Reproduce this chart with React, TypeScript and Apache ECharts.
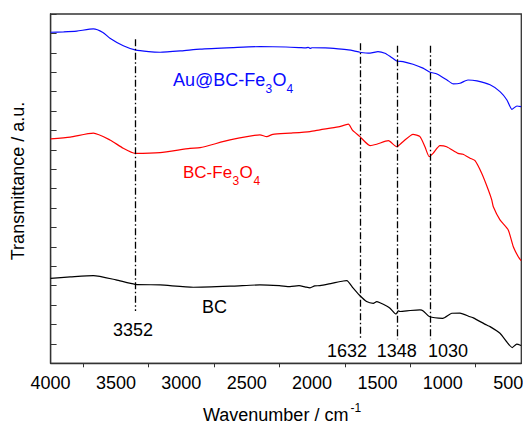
import React, { useEffect, useRef } from "react";
import * as echarts from "echarts";

// ---- data (wavenumber in cm-1, transmittance in arbitrary offset units) ----
const blueWavenumber = [4000, 3900, 3800, 3673, 3600, 3546, 3444, 3354, 3250, 3163, 3000, 2857, 2600, 2399, 2200, 2100, 2050, 2030, 2016, 2000, 1900, 1800, 1723, 1680, 1634, 1557, 1496, 1443, 1400, 1353, 1305, 1228, 1152, 1098, 1045, 968, 920, 869, 808, 739, 639, 563, 510, 472, 433, 402];
const blueT = [17.06, 17.08, 17.12, 17.23, 17.05, 16.75, 16.36, 16.15, 16.06, 16.03, 16.1, 16.19, 16.27, 16.32, 16.3, 16.27, 16.25, 16.28, 16.23, 16.26, 16.25, 16.2, 16.15, 16.1, 16.03, 15.98, 16.06, 15.98, 15.8, 15.58, 15.55, 15.41, 15.21, 15.0, 14.91, 14.6, 14.4, 14.43, 14.6, 14.55, 14.35, 14.0, 13.57, 13.09, 13.26, 13.23];

const redWavenumber = [4000, 3850, 3673, 3546, 3444, 3354, 3163, 2934, 2857, 2628, 2399, 2347, 2300, 2169, 2016, 1940, 1800, 1723, 1690, 1634, 1557, 1506, 1417, 1353, 1305, 1228, 1175, 1137, 1104, 1075, 1022, 971, 884, 846, 792, 754, 703, 652, 626, 614, 563, 500, 461, 423, 402];
const redT = [11.56, 11.66, 11.86, 11.51, 11.08, 10.82, 10.86, 11.08, 11.11, 11.51, 11.77, 11.68, 11.8, 11.86, 11.94, 12.03, 12.18, 12.32, 12.0, 11.68, 11.22, 11.29, 11.47, 11.16, 11.42, 11.8, 11.68, 11.16, 10.65, 10.82, 11.22, 11.16, 10.82, 10.77, 10.57, 10.44, 9.79, 8.93, 8.42, 8.07, 7.39, 6.87, 6.01, 5.49, 5.29];

const blackWavenumber = [4000, 3850, 3673, 3500, 3354, 3163, 2909, 2603, 2399, 2250, 2169, 2100, 2050, 2016, 1980, 1940, 1850, 1761, 1735, 1685, 1639, 1583, 1532, 1506, 1481, 1430, 1404, 1358, 1341, 1328, 1250, 1175, 1150, 1104, 1001, 932, 869, 792, 767, 665, 639, 563, 512, 469, 435, 402];
const blackT = [4.38, 4.45, 4.52, 4.3, 4.07, 4.04, 3.92, 3.98, 4.04, 4.0, 3.95, 4.0, 3.93, 3.89, 3.99, 4.0, 4.12, 4.24, 4.26, 3.87, 3.52, 3.18, 3.09, 3.18, 3.12, 2.95, 2.84, 2.54, 2.7, 2.67, 2.72, 2.75, 2.7, 2.41, 2.32, 2.58, 2.59, 2.4, 2.34, 1.97, 1.89, 1.55, 1.11, 0.81, 0.99, 0.92];

const xTickLabels = [500, 1000, 1500, 2000, 2500, 3000, 3500, 4000];
const xMinorTicks = [750, 1250, 1750, 2250, 2750, 3250, 3750];

const markerWavenumber = [3352, 1632, 1350, 1100];
const markerTop = [16.7, 16.49, 16.37, 16.37];
const markerBottom = [2.7, 1.2, 1.24, 1.24];
const markerLabels = ["3352", "1632", "1348", "1030"];

const FONT = "'Liberation Sans', Arial, Helvetica, sans-serif";

function pairs(xs: number[], ys: number[]) {
  return xs.map((x, i) => [x, ys[i]]);
}

function txt(text: string, x: number, y: number, size: number, color: string, align = "left", extra: any = {}) {
  return {
    type: "text",
    x,
    y,
    silent: true,
    ...extra,
    style: { text, fontSize: size, fontFamily: FONT, fill: color, align, verticalAlign: "middle" },
  };
}

export default function App() {
  const ref = useRef<HTMLDivElement>(null);
  useEffect(() => {
    if (!ref.current) return;
    const chart = echarts.init(ref.current, undefined, { renderer: "svg" });
    const axisColor = "#333";
    const markerLabelPos = [
      { x: 133, y: 330, align: "center" },
      { x: 367, y: 351, align: "right" },
      { x: 396.7, y: 351, align: "center" },
      { x: 428, y: 351, align: "left" },
    ];
    const option: any = {
      animation: false,
      grid: {
        left: 50.6,
        right: 1.7,
        top: 14,
        bottom: 61.7,
        containLabel: false,
        outerBoundsMode: "none",
        show: true,
        borderColor: axisColor,
        borderWidth: 1.3,
      },
      xAxis: {
        type: "value",
        inverse: true,
        min: 400,
        max: 4000,
        axisLine: { show: true, lineStyle: { color: axisColor, width: 1.3 } },
        axisTick: { show: true, inside: false, length: 4, customValues: xMinorTicks, lineStyle: { color: axisColor, width: 1 } },
        axisLabel: {
          customValues: xTickLabels,
          margin: 11,
          fontSize: 18,
          color: "#000",
          fontFamily: FONT,
          hideOverlap: false,
          formatter: (v: number) => String(v),
        },
        splitLine: { show: false },
      },
      yAxis: {
        type: "value",
        min: 0,
        max: 18,
        interval: 1,
        axisLine: { show: true, lineStyle: { color: axisColor, width: 1.3 } },
        axisTick: { show: true, inside: true, length: 6, lineStyle: { color: axisColor, width: 1 } },
        axisLabel: { show: false },
        splitLine: { show: false },
      },
      series: [
        {
          type: "line",
          data: pairs(blueWavenumber, blueT),
          showSymbol: false,
          smooth: 0.2,
          lineStyle: { color: "#0a0aff", width: 1.2 },
          itemStyle: { color: "#0a0aff" },
          silent: true,
        },
        {
          type: "line",
          data: pairs(redWavenumber, redT),
          showSymbol: false,
          smooth: 0.2,
          lineStyle: { color: "#ff0000", width: 1.2 },
          itemStyle: { color: "#ff0000" },
          silent: true,
        },
        {
          type: "line",
          data: pairs(blackWavenumber, blackT),
          showSymbol: false,
          smooth: 0.2,
          lineStyle: { color: "#000000", width: 1.2 },
          itemStyle: { color: "#000000" },
          silent: true,
          markLine: {
            silent: true,
            symbol: ["none", "none"],
            label: { show: false },
            lineStyle: { color: "#000", width: 1.3, type: [7, 2.5, 1.5, 2.5] },
            emphasis: { disabled: true },
            data: markerWavenumber.map((w, i) => [
              { coord: [w, markerTop[i]] },
              { coord: [w, markerBottom[i]] },
            ]),
          },
        },
      ],
      graphic: [
        // axis names
        txt("Transmittance / a.u.", 18.3, 181, 18, "#000", "center", { rotation: Math.PI / 2 }),
        txt("Wavenumber / cm", 203, 415, 18, "#000", "left"),
        txt("-1", 350.5, 408, 12, "#000", "left"),
        // curve labels
        txt("Au@BC-Fe", 173, 79.5, 18, "#0a0aff", "left"),
        txt("3", 265.5, 89, 12, "#0a0aff", "left"),
        txt("O", 272.4, 79.5, 18, "#0a0aff", "left"),
        txt("4", 286.6, 89, 12, "#0a0aff", "left"),
        txt("BC-Fe", 183, 172.7, 17, "#ff0000", "left"),
        txt("3", 232.5, 181, 12, "#ff0000", "left"),
        txt("O", 239.5, 172.7, 17, "#ff0000", "left"),
        txt("4", 253.5, 181, 12, "#ff0000", "left"),
        txt("BC", 202, 307, 18, "#000", "left"),
        // marker labels
        ...markerLabels.map((t, i) => txt(t, markerLabelPos[i].x, markerLabelPos[i].y, 18, "#000", markerLabelPos[i].align)),
      ],
    };
    chart.setOption(option);
    return () => chart.dispose();
  }, []);
  return (
    <div
      ref={ref}
      style={{ position: "fixed", left: 0, top: 0, width: 523, height: 425, background: "#fff" }}
    />
  );
}
